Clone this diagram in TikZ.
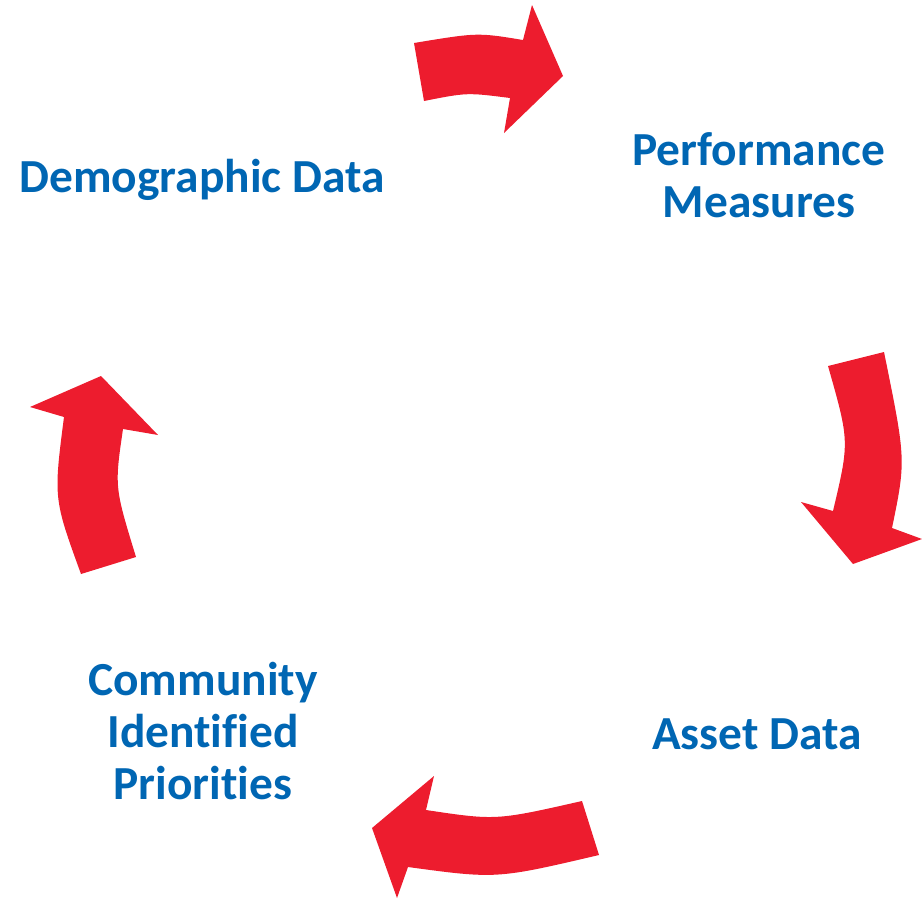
\documentclass[tikz,border=0pt]{standalone}
\usepackage{fontspec}
\setmainfont[Ligatures=NoCommon]{Carlito}
\definecolor{arrowred}{HTML}{ED1C2E}
\definecolor{stageblue}{HTML}{0066B3}

\begin{document}
\begin{tikzpicture}[x=0.02cm, y=-0.02cm,
  curvedarrow/.style={fill=arrowred, draw=none},
  stage/.style={text=stageblue, font=\fontsize{27}{29.5}\selectfont\bfseries, align=center, inner sep=0pt, anchor=base}]
  \useasboundingbox (0,0) rectangle (922,899);

  % top: demographic -> performance
  \fill[curvedarrow] (414,43) .. controls (477.5,32.5) .. (523,40) -- (532,5) -- (563,76)
    -- (504,133) -- (510,98) .. controls (467,92.5) .. (424,101) -- cycle;
  % right: performance -> asset
  \fill[curvedarrow] (828,366) -- (884,352) .. controls (906,460) .. (892,528) -- (922,539)
    -- (853,564) -- (801,502) -- (833,511) .. controls (849.5,441.5) .. cycle;
  % bottom: asset -> community
  \fill[curvedarrow] (582,801) -- (599,855) .. controls (496.5,879) .. (408,867) -- (397,898)
    -- (372,828) -- (434,776) -- (426,810) .. controls (496,820.5) .. cycle;
  % left: community -> demographic
  \fill[curvedarrow] (136,557) -- (81,574) .. controls (53.5,498.5) .. (64,417) -- (30,407)
    -- (101,376) -- (158,435) -- (123,429) .. controls (114.5,487) .. cycle;

  % base anchor = last line
  \node[stage] (demo) at (202,192) {Demographic Data};
  \node[stage] (perf) at (759,217) {Performance\\Measures};
  \node[stage] (asset) at (757,749) {Asset Data};
  \node[stage] (comm) at (203,799) {Community\\Identified\\Priorities};
\end{tikzpicture}
\end{document}
